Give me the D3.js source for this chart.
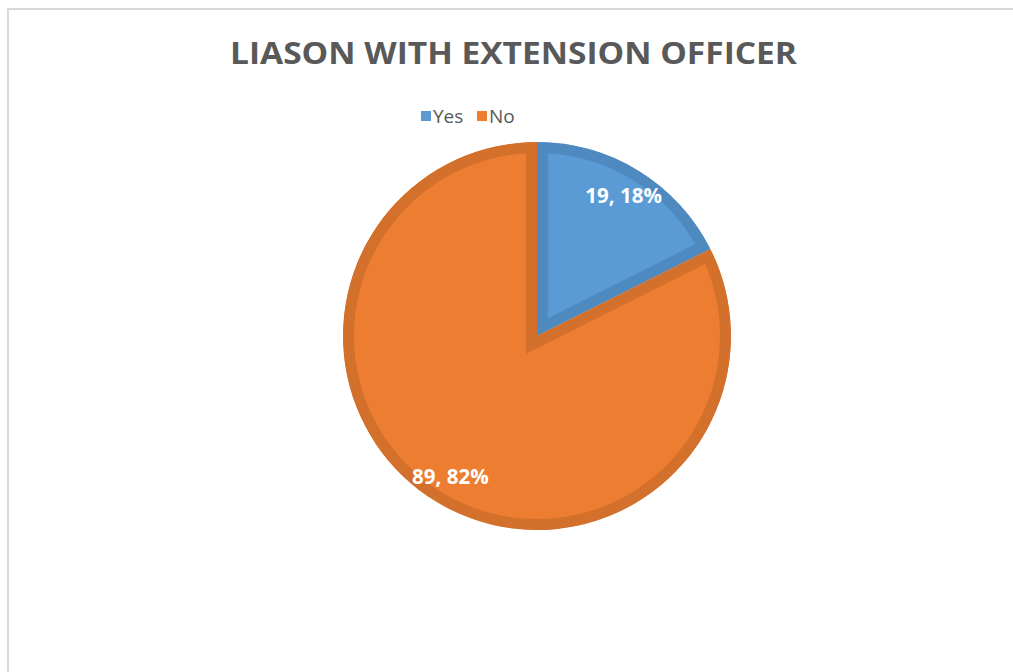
<!DOCTYPE html>
<html>
<head>
<meta charset="utf-8">
<script src="https://cdn.jsdelivr.net/npm/d3@7"></script>
<style>
  body { margin: 0; background: #fff; }
  svg { display: block; font-family: 'Open Sans', sans-serif; }
</style>
</head>
<body>
<svg width="1013" height="672"></svg>
<script>
const categories = ['Yes', 'No'];
const values = [19, 89];
const fills = ['#5B9BD5', '#ED7D31'];
const strokes = ['#4E89C0', '#D2702C'];
const title = 'LIASON WITH EXTENSION OFFICER';

const svg = d3.select('svg');
const cx = 537, cy = 336, radius = 194;
const total = d3.sum(values);

// chart frame
svg.append('rect')
    .attr('x', 8).attr('y', 9)
    .attr('width', 1200).attr('height', 1000)
    .attr('fill', 'none')
    .attr('stroke', '#d9d9d9')
    .attr('stroke-width', 2);

svg.append('text')
    .attr('x', 513.5)
    .attr('y', 64)
    .attr('text-anchor', 'middle')
    .attr('fill', '#595959')
    .style('font-size', '31px')
    .style('font-weight', 700)
    .attr('textLength', 567)
    .attr('lengthAdjust', 'spacingAndGlyphs')
    .text(title);

// legend
const legendX = [421, 477];
const legend = svg.append('g');
categories.forEach((c, i) => {
  legend.append('rect')
      .attr('x', legendX[i]).attr('y', 111)
      .attr('width', 10).attr('height', 10)
      .attr('fill', fills[i]);
  legend.append('text')
      .attr('x', legendX[i] + 12)
      .attr('y', 123)
      .attr('fill', '#595959')
      .style('font-size', '19px')
      .text(c);
});

const pie = d3.pie().sort(null).value(d => d);
const arcs = pie(values);
const arc = d3.arc().innerRadius(0).outerRadius(radius);
const labelArc = d3.arc().innerRadius(165).outerRadius(165);

const g = svg.append('g')
    .attr('transform', `translate(${cx},${cy})`);

const defs = svg.append('defs');
arcs.forEach((d, i) => {
  defs.append('clipPath')
      .attr('id', 'clip' + i)
    .append('path')
      .attr('d', arc(d));
});

// slices with inner border
g.selectAll('path.slice')
  .data(arcs)
  .join('path')
    .attr('class', 'slice')
    .attr('d', arc)
    .attr('fill', (d, i) => fills[i])
    .attr('stroke', (d, i) => strokes[i])
    .attr('stroke-width', 22)
    .attr('stroke-linejoin', 'miter')
    .attr('clip-path', (d, i) => `url(#clip${i})`);

g.selectAll('text.label')
  .data(arcs)
  .join('text')
    .attr('class', 'label')
    .attr('transform', d => `translate(${labelArc.centroid(d)})`)
    .attr('text-anchor', 'middle')
    .attr('dy', '0.36em')
    .attr('fill', '#fff')
    .style('font-size', '20.5px')
    .style('font-weight', 700)
    .text(d => `${d.value}, ${Math.round(d.value / total * 100)}%`);
</script>
</body>
</html>
